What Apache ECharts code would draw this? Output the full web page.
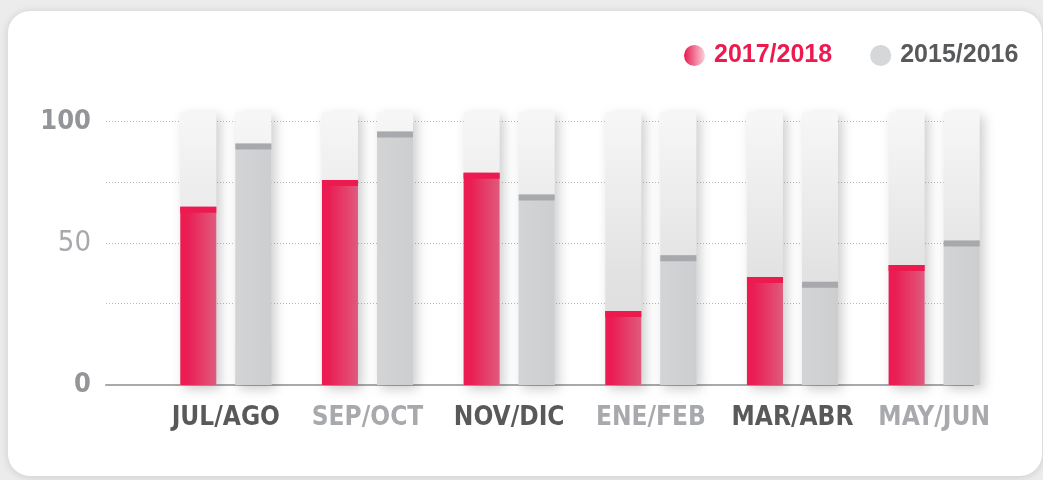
<!DOCTYPE html>
<html>
<head>
<meta charset="utf-8">
<script src="https://cdn.jsdelivr.net/npm/echarts@6/dist/echarts.min.js"></script>
<style>
  html, body { margin: 0; padding: 0; }
  body { width: 1043px; height: 480px; background: #ececec; position: relative; overflow: hidden; }
  #card {
    position: absolute; left: 8px; top: 11px; width: 1034px; height: 465px;
    background: #fff; border-radius: 22px;
    box-shadow: 0 1px 8px rgba(0, 0, 0, 0.14);
  }
  #chart { position: absolute; left: 0; top: 0; width: 1043px; height: 480px; }
</style>
</head>
<body>
<div id="card"></div>
<div id="chart"></div>
<script>
// data
const categories = ["JUL/AGO", "SEP/OCT", "NOV/DIC", "ENE/FEB", "MAR/ABR", "MAY/JUN"];
const seriesNames = ["2017/2018", "2015/2016"];
const values2018 = [65, 76, 79, 22, 36, 41];
const values2016 = [91, 96, 70, 45, 34, 51];
const gridValues = [25, 50, 75, 100];
const labelValues = [50, 100];

// axis range: baseline sits a bit below zero, like the original
const yMin = -8.5;
const yMax = 104;

const condensed = "'Liberation Sans Narrow', 'DejaVu Sans Condensed', sans-serif";
const red = "#ed1a4f";

const chart = echarts.init(document.getElementById("chart"));

const bgStyle = {
  color: {
    type: "linear", x: 0, y: 0, x2: 0, y2: 1,
    colorStops: [
      { offset: 0, color: "#f7f7f7" },
      { offset: 0.6, color: "#e2e2e3" },
      { offset: 1, color: "#d9dadb" }
    ]
  },
  shadowBlur: 12,
  shadowColor: "rgba(0,0,0,0.2)",
  shadowOffsetX: 4,
  shadowOffsetY: 4
};

chart.setOption({
  animation: false,
  legend: {
    data: [
      { name: seriesNames[0], itemStyle: { color: {
          type: "linear", x: 0, y: 0, x2: 1, y2: 0,
          colorStops: [{ offset: 0, color: "#e8194f" }, { offset: 1, color: "#f9d3dd" }]
        } }, textStyle: { color: red } },
      { name: seriesNames[1], itemStyle: { color: "#d6d7d9" }, textStyle: { color: "#58595b" } }
    ],
    icon: "circle",
    left: 679,
    top: 38,
    itemWidth: 21,
    itemHeight: 21,
    itemGap: 38,
    textStyle: {
      fontFamily: "'Liberation Sans', Arial, sans-serif",
      fontWeight: "bold",
      fontSize: 25,
      padding: [0, 0, 0, 4]
    }
  },
  grid: [
    // bars
    { left: 155, right: 38, top: 112, bottom: 95 },
    // decoration: gridlines, y labels, baseline
    { left: 106, right: 70, top: 112, bottom: 95 }
  ],
  xAxis: [
    {
      type: "category",
      gridIndex: 0,
      data: categories,
      axisLine: { show: false },
      axisTick: { show: false },
      axisLabel: {
        interval: 0,
        margin: 20,
        formatter: function (value) {
          return categories.indexOf(value) % 2 === 0 ? "{d|" + value + "}" : "{l|" + value + "}";
        },
        rich: {
          d: { fontFamily: condensed, fontWeight: "bold", fontSize: 26, color: "#58595b" },
          l: { fontFamily: condensed, fontWeight: "bold", fontSize: 26, color: "#a7a9ac" }
        }
      }
    },
    {
      type: "value",
      gridIndex: 1,
      min: 0,
      max: 1,
      axisLine: { show: true, onZero: false, lineStyle: { color: "#a7a9ac", width: 2 } },
      axisTick: { show: false },
      axisLabel: { show: false },
      splitLine: { show: false }
    }
  ],
  yAxis: [
    {
      type: "value",
      gridIndex: 0,
      min: yMin,
      max: yMax,
      startValue: yMin,
      show: false,
      splitLine: { show: false }
    },
    {
      type: "value",
      gridIndex: 1,
      min: yMin,
      max: yMax,
      axisLine: { show: false },
      axisTick: { show: false, customValues: gridValues },
      splitLine: {
        show: true,
        lineStyle: { color: "#b9b9bb", type: [1, 2], width: 1 }
      },
      axisLabel: {
        customValues: [yMin].concat(labelValues),
        margin: 15,
        formatter: function (v) {
          if (v <= yMin) return "{b|0}";
          if (v === 50) return "{l|50}";
          return "{b|" + v + "}";
        },
        rich: {
          b: { fontFamily: condensed, fontWeight: "bold", fontSize: 27, color: "#939598" },
          l: { fontFamily: condensed, fontWeight: "normal", fontSize: 29, color: "#a7a9ac" }
        }
      }
    }
  ],
  series: [
    {
      name: seriesNames[0],
      type: "bar",
      xAxisIndex: 0,
      yAxisIndex: 0,
      data: values2018,
      barWidth: 36,
      barGap: "53%",
      showBackground: true,
      backgroundStyle: bgStyle,
      itemStyle: {
        color: {
          type: "linear", x: 0, y: 0, x2: 1, y2: 0,
          colorStops: [
            { offset: 0, color: "#ec1a50" },
            { offset: 0.2, color: "#ea1e54" },
            { offset: 1, color: "#e05a7d" }
          ]
        }
      },
      z: 2
    },
    {
      name: seriesNames[1],
      type: "bar",
      xAxisIndex: 0,
      yAxisIndex: 0,
      data: values2016,
      barWidth: 36,
      barGap: "53%",
      showBackground: true,
      backgroundStyle: bgStyle,
      itemStyle: {
        color: {
          type: "linear", x: 0, y: 0, x2: 1, y2: 0,
          colorStops: [
            { offset: 0, color: "#d3d4d6" },
            { offset: 1, color: "#cdced0" }
          ]
        }
      },
      z: 2
    },
    // darker caps on top of each bar
    {
      name: seriesNames[0] + " cap",
      type: "pictorialBar",
      xAxisIndex: 0,
      yAxisIndex: 0,
      data: values2018,
      barWidth: 36,
      barGap: "53%",
      symbol: "rect",
      symbolSize: [36, 6],
      symbolPosition: "end",
      itemStyle: { color: red },
      z: 3
    },
    {
      name: seriesNames[1] + " cap",
      type: "pictorialBar",
      xAxisIndex: 0,
      yAxisIndex: 0,
      data: values2016,
      barWidth: 36,
      barGap: "53%",
      symbol: "rect",
      symbolSize: [36, 6],
      symbolPosition: "end",
      itemStyle: { color: "#a7a9ac" },
      z: 3
    }
  ]
});
</script>
</body>
</html>
